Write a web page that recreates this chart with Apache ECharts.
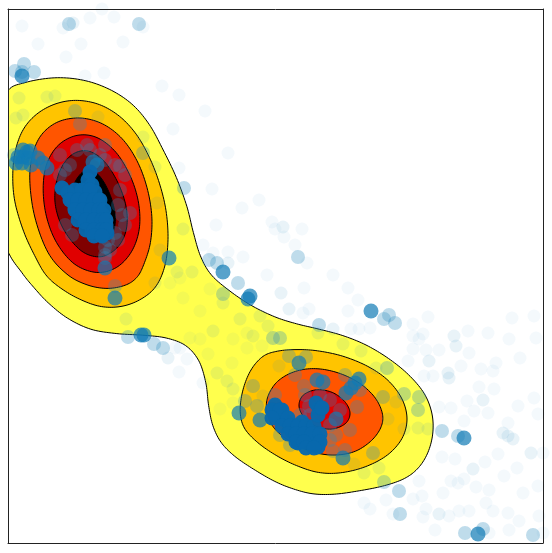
<!DOCTYPE html>
<html>
<head>
<meta charset="utf-8">
<style>
html, body { margin: 0; padding: 0; background: #fff; }
#chart { width: 552px; height: 553px; }
</style>
<script src="https://cdn.jsdelivr.net/npm/echarts@6/dist/echarts.min.js"></script>
</head>
<body>
<div id="chart"></div>
<script>
// filled density bands, outermost first
const bandOuter = [[-18,438],[0,452],[12,461],[49,467],[75,464],[102,455],[125,440],[142,420],[155,393],[169,366],[180,336],[185,310],[192,286],[201,268],[219,254],[242,237],[268,225],[288,219],[311,214],[335,208],[358,199],[381,185],[401,169],[418,150],[425,130],[426,110],[421,90],[411,74],[398,64],[378,57],[351,52],[325,48],[305,48],[285,54],[268,60],[245,74],[225,87],[212,100],[204,117],[200,137],[199,160],[192,184],[179,199],[159,206],[135,208],[109,209],[82,212],[59,224],[39,240],[25,257],[15,267],[0,293],[-18,318]];
const bandTwoUpper = [[4,370],[7,396],[15,416],[29,431],[49,441],[69,444],[92,440],[112,428],[129,410],[142,386],[152,360],[159,333],[161,303],[158,276],[149,254],[132,242],[112,235],[92,235],[69,244],[49,257],[37,267],[29,283],[15,310],[5,343]];
const bandTwoLower = [[268,192],[288,194],[308,193],[335,188],[361,177],[381,164],[396,144],[401,124],[396,104],[381,87],[358,75],[331,69],[311,69],[288,77],[268,87],[249,100],[234,115],[231,130],[234,154],[242,174],[255,189]];
const bandThreeUpper = [[20,366],[24,390],[32,410],[49,423],[72,427],[95,421],[115,406],[130,383],[140,356],[145,326],[144,300],[135,276],[130,265],[119,257],[99,253],[79,257],[59,267],[39,286],[25,326]];
const bandThreeLower = [[268,163],[285,172],[305,176],[328,172],[351,162],[368,147],[376,129],[375,117],[365,102],[348,90],[328,87],[308,89],[288,97],[268,111],[262,120],[257,135],[259,147]];
const bandFourUpper = [[34,356],[37,380],[49,400],[69,410],[89,408],[109,393],[124,366],[132,340],[133,313],[125,290],[109,273],[89,268],[65,276],[47,300],[37,326]];
const bandFourLower = [[289,137],[293,149],[308,155],[325,152],[338,142],[344,130],[340,119],[325,112],[308,115],[295,125]];
const bandFive = [[45,346],[50,373],[62,390],[79,395],[95,386],[110,363],[120,336],[120,313],[112,295],[94,283],[75,288],[59,306],[49,326]];
const bandPeak = [[60,338],[64,358],[74,373],[84,375],[95,365],[105,343],[109,323],[105,305],[92,300],[77,308],[66,321]];

// samples, grouped by how much they pile up on each other
const pointsFaint = [[14,517],[55,515],[82,525],[94,534],[106,526],[135,516],[30,499],[73,499],[115,501],[58,486],[77,467],[96,470],[154,457],[171,448],[197,432],[165,414],[220,390],[171,375],[204,354],[251,343],[234,335],[208,318],[264,321],[267,314],[294,314],[276,306],[287,298],[299,280],[325,268],[195,298],[205,290],[220,291],[235,286],[259,268],[202,254],[192,232],[175,245],[172,265],[162,260],[171,171],[172,195],[167,195],[179,184],[195,160],[192,204],[182,205],[200,189],[212,134],[225,140],[224,180],[239,210],[254,197],[239,195],[225,204],[296,255],[340,255],[350,243],[340,232],[351,214],[362,215],[301,234],[295,230],[343,214],[405,219],[420,226],[415,209],[411,204],[405,207],[418,193],[431,193],[405,194],[400,182],[460,212],[461,190],[453,177],[480,210],[501,204],[504,225],[526,227],[528,205],[512,185],[488,180],[473,174],[485,172],[425,167],[416,167],[471,156],[486,154],[459,142],[526,145],[510,137],[431,136],[443,135],[456,122],[466,132],[480,130],[530,129],[500,120],[490,89],[535,90],[434,86],[447,84],[477,81],[509,75],[496,67],[530,57],[515,50],[481,53],[468,56],[456,64],[450,60],[443,62],[435,50],[411,62],[414,47],[405,44],[378,43],[356,40],[362,34],[385,29],[418,34],[415,26],[441,27],[451,32],[461,32],[485,32],[478,40],[500,30],[511,22],[531,27],[427,13],[481,10],[501,13],[535,10],[456,-1]];
const pointsLight = [[275,316],[65,520],[118,224],[205,212],[209,170],[219,162],[225,154],[255,147],[252,227],[260,217],[232,224],[47,447],[39,446],[11,445],[8,425],[15,428],[90,426],[135,406],[147,376],[149,340],[175,314],[184,271],[169,271],[152,293],[160,185],[147,260],[273,250],[281,234],[421,182],[448,197],[446,207],[440,170],[441,165],[475,143],[495,110],[500,107],[505,104],[523,90],[465,74],[431,29],[220,280],[346,79],[356,70],[371,75],[388,141],[380,124],[396,114],[410,115],[420,114],[368,175],[353,192],[335,199],[310,210],[325,214],[271,177],[245,207],[215,240]];
const pointsMedium = [[14,471],[7,472],[16,479],[26,471],[61,519],[131,519],[176,355],[201,283],[209,280],[230,260],[215,249],[265,205],[272,205],[67,432],[72,419],[135,390],[97,296],[107,310],[122,330],[112,377],[97,398],[79,398],[69,393],[107,257],[120,206],[146,199],[155,195],[237,142],[249,137],[245,157],[281,187],[298,186],[296,157],[301,137],[349,136],[328,108],[325,92],[365,90],[376,61],[391,52],[392,29],[375,146],[396,149],[411,146],[410,133],[434,112],[450,107],[379,175],[311,218],[381,228],[387,220],[376,224],[457,10],[475,14],[525,8],[290,286],[97,285],[6,388],[82,393],[92,388],[107,378],[117,368],[112,353],[110,338],[114,328],[117,318],[110,303],[102,293],[57,373],[52,368],[62,378],[97,383],[57,318],[64,308],[97,288],[100,303],[52,388],[322,103],[337,93],[282,98],[272,108],[312,148],[332,133],[342,113],[322,143],[297,148],[337,168],[287,168],[267,148],[352,153],[322,118],[292,128],[302,128]];
const pointsStrong = [[15,393],[10,386],[20,385],[14,380],[19,391],[15,386],[22,392],[8,380],[23,378],[30,385],[35,380],[39,375],[85,381],[89,378],[97,275],[161,285],[240,244],[242,247],[215,271],[107,245],[136,208],[133,208],[231,130],[252,123],[309,163],[315,161],[343,155],[347,160],[338,150],[351,164],[291,180],[335,85],[456,105],[470,9],[363,232],[311,104],[328,124],[14,467]];
const pointsSolid = [[82,371],[80,363],[84,358],[77,353],[87,351],[82,345],[72,343],[90,343],[77,335],[87,335],[95,328],[72,330],[82,328],[77,321],[90,318],[98,318],[84,311],[94,308],[92,323],[67,335],[65,343],[60,350],[54,355],[99,310],[67,353],[74,353],[82,353],[62,343],[70,343],[78,343],[86,343],[92,343],[67,333],[75,333],[83,333],[91,333],[96,333],[70,323],[78,323],[86,323],[94,323],[98,323],[78,313],[86,313],[94,313],[98,313],[86,307],[94,307],[267,138],[274,133],[267,128],[277,123],[284,118],[272,125],[284,111],[292,113],[297,105],[290,100],[304,100],[310,96],[302,111],[294,121],[307,108],[311,135],[308,140],[264,133],[272,133],[264,125],[280,125],[274,117],[282,117],[290,117],[298,117],[306,117],[280,109],[288,109],[296,109],[304,109],[312,109],[288,101],[296,101],[312,101],[298,95],[306,95],[310,128],[314,135]];

const bandList = [
  { points: bandOuter, color: "#ffff4d" },
  { points: bandTwoUpper, color: "#ffc400" },
  { points: bandTwoLower, color: "#ffc400" },
  { points: bandThreeUpper, color: "#ff5500" },
  { points: bandThreeLower, color: "#ff5500" },
  { points: bandFourUpper, color: "#e00000" },
  { points: bandFourLower, color: "#e00000" },
  { points: bandFive, color: "#800000" },
  { points: bandPeak, color: "#000000" }
];

const pointGroups = [
  { data: pointsFaint, color: "#2b8cbe", opacity: 0.05, size: 13 },
  { data: pointsLight, color: "#2b8cbe", opacity: 0.1, size: 13 },
  { data: pointsMedium, color: "#2b8cbe", opacity: 0.3, size: 14 },
  { data: pointsStrong, color: "#0f7bb5", opacity: 0.7, size: 15 },
  { data: pointsSolid, color: "#0868ac", opacity: 0.97, size: 15 }
];

let chart = echarts.init(document.getElementById("chart"));

function hiddenAxis(position, max) {
  return {
    type: "value",
    position: position,
    min: 0,
    max: max,
    z: 10,
    axisLine: { show: true, onZero: false, lineStyle: { color: "#222222", width: 1 } },
    axisTick: { show: false },
    axisLabel: { show: false },
    splitLine: { show: false }
  };
}

// evens out reading noise, then a closed catmull-rom so the outline comes out round
function roundOutline(raw) {
  let n = raw.length;
  let pts = raw.map(function (p, i) {
    let a = raw[(i - 1 + n) % n], b = raw[(i + 1) % n];
    return [0.2 * a[0] + 0.6 * p[0] + 0.2 * b[0], 0.2 * a[1] + 0.6 * p[1] + 0.2 * b[1]];
  });
  let out = [];
  for (let i = 0; i < n; i++) {
    let p0 = pts[(i - 1 + n) % n], p1 = pts[i], p2 = pts[(i + 1) % n], p3 = pts[(i + 2) % n];
    for (let s = 0; s < 10; s++) {
      let t = s / 10, t2 = t * t, t3 = t2 * t;
      out.push([
        0.5 * (2 * p1[0] + (p2[0] - p0[0]) * t + (2 * p0[0] - 5 * p1[0] + 4 * p2[0] - p3[0]) * t2 + (3 * p1[0] - p0[0] - 3 * p2[0] + p3[0]) * t3),
        0.5 * (2 * p1[1] + (p2[1] - p0[1]) * t + (2 * p0[1] - 5 * p1[1] + 4 * p2[1] - p3[1]) * t2 + (3 * p1[1] - p0[1] - 3 * p2[1] + p3[1]) * t3)
      ]);
    }
  }
  return out;
}

let series = [{
  type: "custom",
  coordinateSystem: "cartesian2d",
  clip: true,
  z: 1,
  silent: true,
  data: bandList.map(function (band, i) { return [i, 0]; }),
  renderItem: function (params, api) {
    let band = bandList[api.value(0)];
    let coords = band.points.map(function (p) { return api.coord(p); });
    return {
      type: "polygon",
      shape: { points: roundOutline(coords) },
      style: { fill: band.color, stroke: "#000000", lineWidth: 1 }
    };
  }
}];

pointGroups.forEach(function (group) {
  series.push({
    type: "scatter",
    clip: true,
    z: 2,
    silent: true,
    symbol: "circle",
    symbolSize: group.size,
    data: group.data,
    itemStyle: { color: group.color, opacity: group.opacity }
  });
});

chart.setOption({
  animation: false,
  grid: { left: 8, top: 9, width: 535, height: 534, containLabel: false },
  xAxis: [hiddenAxis("bottom", 535), hiddenAxis("top", 535)],
  yAxis: [hiddenAxis("left", 534), hiddenAxis("right", 534)],
  series: series
});
</script>
</body>
</html>
